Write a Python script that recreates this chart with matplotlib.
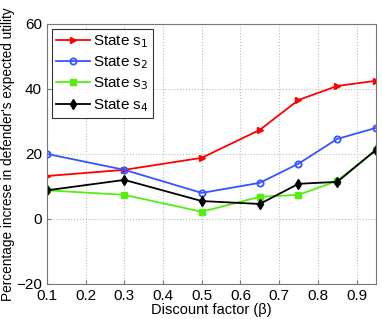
import matplotlib
matplotlib.use("Agg")
import matplotlib.pyplot as plt

plt.rcParams['font.family'] = ['Liberation Sans', 'DejaVu Sans']

beta = [0.1, 0.3, 0.5, 0.65, 0.75, 0.85, 0.95]
state_s1 = [13.2, 15.1, 18.8, 27.4, 36.6, 40.9, 42.5]
state_s2 = [20.0, 15.1, 8.0, 11.1, 17.0, 24.6, 28.0]
state_s3 = [8.8, 7.4, 2.2, 6.8, 7.4, 11.7, 21.2]
state_s4 = [8.8, 12.0, 5.5, 4.6, 10.8, 11.4, 21.2]

xticks = [0.1, 0.2, 0.3, 0.4, 0.5, 0.6, 0.7, 0.8, 0.9]
yticks = [-20, 0, 20, 40, 60]

fig = plt.figure(figsize=(3.82, 3.19), dpi=100)
ax = fig.add_axes([0.123, 0.110, 0.861, 0.815])

ax.plot(beta, state_s1, color='#ff0000', marker='>', ms=5, lw=1.3, label='State s$_1$')
ax.plot(beta, state_s2, color='#3355ff', marker='o', ms=4.5, mfc='none', mew=1.3, lw=1.3, label='State s$_2$')
ax.plot(beta, state_s3, color='#55ee11', marker='s', ms=4, lw=1.3, label='State s$_3$')
ax.plot(beta, state_s4, color='#000000', marker='d', ms=5, lw=1.3, label='State s$_4$')

ax.set_xlim(0.1, 0.95)
ax.set_ylim(-20, 60)
ax.set_xticks(xticks)
ax.set_yticks(yticks)
ax.tick_params(labelsize=11, direction='in', length=3, color='#777777')
ax.grid(True, linestyle=':', color='#bbbbbb', lw=0.8)
for sp in ax.spines.values():
    sp.set_color('#777777')

ax.set_xlabel('Discount factor (β)', fontsize=10.5, labelpad=0)
ax.set_ylabel("Percentage increse in defender's expected utility", fontsize=9.8, labelpad=1)

leg = ax.legend(loc='upper left', fontsize=11, fancybox=False, handlelength=2.2,
                borderaxespad=0.3, labelspacing=0.3, handletextpad=0.2, borderpad=0.3)
leg.get_frame().set_edgecolor('#000000')
leg.get_frame().set_linewidth(0.8)

fig.savefig('out.png', dpi=100)
